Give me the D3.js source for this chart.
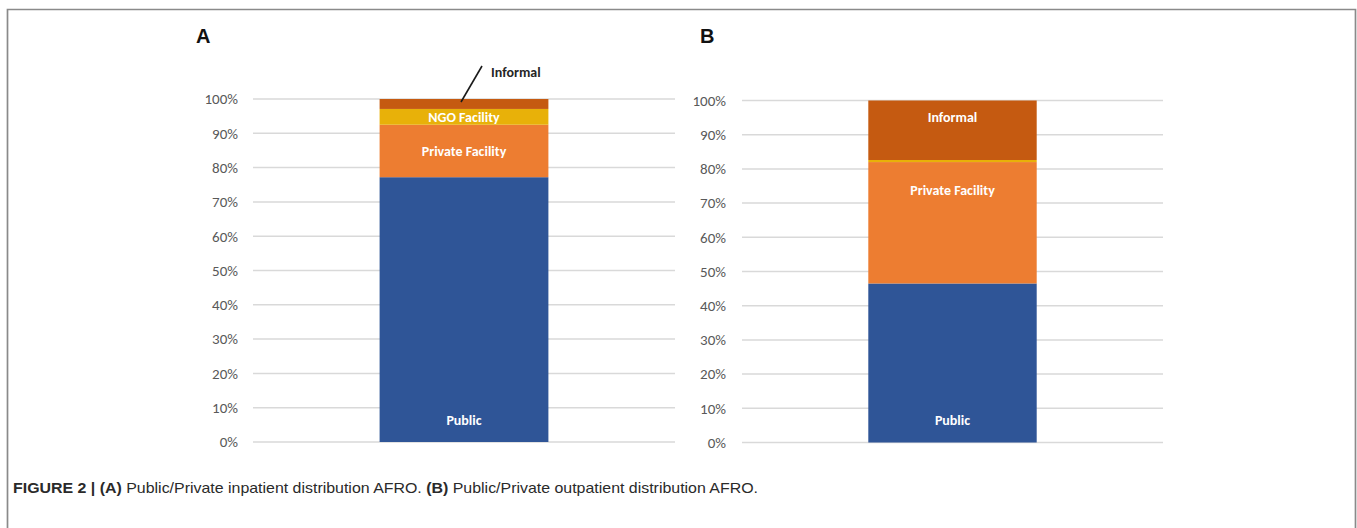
<!DOCTYPE html>
<html><head><meta charset="utf-8">
<script src="https://cdn.jsdelivr.net/npm/d3@7"></script>
<style>
html,body{margin:0;padding:0;background:#fff;}
svg{display:block;}
</style></head>
<body>
<svg id="chart" width="1357" height="528"></svg>
<script>
// ---- data ----
const categories = ["Public", "Private Facility", "NGO Facility", "Informal"];
const inpatientValues = [77.2, 15.3, 4.6, 2.9];   // panel A (%)
const outpatientValues = [46.5, 35.5, 0.6, 17.4]; // panel B (%)
const tickValues = [0, 10, 20, 30, 40, 50, 60, 70, 80, 90, 100];
const tickLabels = ["0%", "10%", "20%", "30%", "40%", "50%", "60%", "70%", "80%", "90%", "100%"];
const panelLetters = ["A", "B"];
const captionParts = [
  {t: "FIGURE 2 | ", b: true}, {t: "(A)", b: true},
  {t: " Public/Private inpatient distribution AFRO. ", b: false},
  {t: "(B)", b: true}, {t: " Public/Private outpatient distribution AFRO.", b: false}
];

// ---- style ----
const colors = ["#2F5597", "#ED7D31", "#E8B109", "#C55A11"];
const labelFont = "Carlito, Lato, 'Open Sans', sans-serif";

const svg = d3.select("#chart");
svg.append("rect").attr("width", 1357).attr("height", 528).attr("fill", "#fff");
// outer frame
svg.append("path")
  .attr("d", "M7.5,540 L7.5,9.5 L1355.5,9.5 L1355.5,540")
  .attr("fill", "none").attr("stroke", "#8a8a8a").attr("stroke-width", 1.7);

const panels = [
  {values: inpatientValues, x0: 253, x1: 675, yTop: 99, yBot: 442, letterX: 196, labelRight: 238,
   labels: ["base", "center", "center", "callout"]},
  {values: outpatientValues, x0: 742, x1: 1163, yTop: 100.5, yBot: 442.5, letterX: 700, labelRight: 726,
   labels: ["base", {top: 28}, null, {top: 17}]}
];

panels.forEach((p, pi) => {
  const g = svg.append("g");
  const y = d3.scaleLinear().domain([0, 100]).range([p.yBot, p.yTop]);
  const x = d3.scaleBand().domain(["all"]).range([p.x0, p.x1]).paddingInner(0).paddingOuter(0.75);

  // panel letter
  g.append("text").attr("x", p.letterX).attr("y", 43)
    .attr("font-family", "Liberation Sans, Arial, sans-serif").attr("font-weight", "bold")
    .attr("font-size", 20).attr("fill", "#111").text(panelLetters[pi]);

  // gridlines
  g.selectAll("line.grid").data(tickValues).enter().append("line")
    .attr("x1", p.x0).attr("x2", p.x1)
    .attr("y1", d => y(d)).attr("y2", d => y(d))
    .attr("stroke", "#d9d9d9").attr("stroke-width", 1.5);

  // y axis labels
  const axis = d3.axisLeft(y).tickValues(tickValues).tickFormat((d, i) => tickLabels[i]).tickSize(0).tickPadding(0);
  const ag = g.append("g").attr("transform", `translate(${p.labelRight},0)`).call(axis);
  ag.select(".domain").remove();
  ag.selectAll("text").attr("font-family", labelFont).attr("font-size", 15).attr("fill", "#595959");

  // stacked segments
  const stackData = [Object.fromEntries(categories.map((c, i) => [c, p.values[i]]))];
  const series = d3.stack().keys(categories)(stackData);
  g.selectAll("rect.seg").data(series).enter().append("rect")
    .attr("x", x("all")).attr("width", x.bandwidth())
    .attr("y", s => y(s[0][1])).attr("height", s => y(s[0][0]) - y(s[0][1]))
    .attr("fill", (s, i) => colors[i]);

  // segment labels
  series.forEach((s, i) => {
    const rule = p.labels[i];
    if (!rule) return;
    const cx = x("all") + x.bandwidth() / 2;
    const top = y(s[0][1]), bot = y(s[0][0]);
    if (rule === "callout") {
      const sx = cx - 3, sy = top + 3;
      g.append("line").attr("x1", sx).attr("y1", sy).attr("x2", sx + 21).attr("y2", sy - 36)
        .attr("stroke", "#1a1a1a").attr("stroke-width", 1.6);
      g.append("text").attr("x", sx + 30).attr("y", sy - 25)
        .attr("font-family", labelFont).attr("font-weight", 600).attr("font-size", 14)
        .attr("fill", "#262626").text(categories[i]);
      return;
    }
    let ly;
    if (rule === "base") ly = y(0) - 22;
    else if (rule === "center") ly = (top + bot) / 2;
    else ly = top + rule.top;
    g.append("text").attr("x", cx).attr("y", ly).attr("dy", "0.35em")
      .attr("text-anchor", "middle")
      .attr("font-family", labelFont).attr("font-weight", "bold").attr("font-size", 14)
      .attr("fill", "#fff").text(categories[i]);
  });
});

// caption
const cap = svg.append("text").attr("x", 13).attr("y", 493)
  .attr("font-family", "'Liberation Sans Narrow', 'Liberation Sans', Arial, sans-serif")
  .attr("font-size", 15).attr("fill", "#2a2a2a")
  .attr("textLength", 745).attr("lengthAdjust", "spacingAndGlyphs");
captionParts.forEach(c => {
  cap.append("tspan").attr("font-weight", c.b ? "bold" : "normal").text(c.t);
});
</script>
</body></html>
